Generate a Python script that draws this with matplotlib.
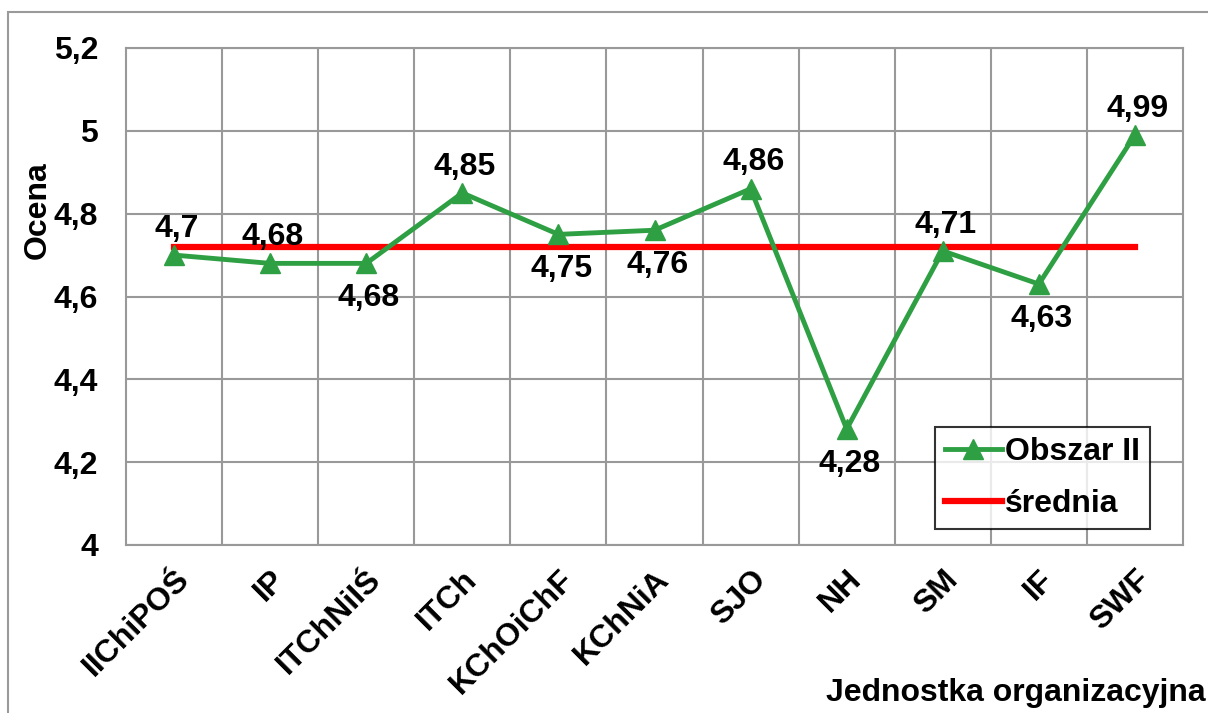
import matplotlib.pyplot as plt
from matplotlib.patches import Rectangle

plt.rcParams['font.family'] = ['Liberation Sans', 'DejaVu Sans']
plt.rcParams['font.weight'] = 'bold'

units = ['IIChiPOŚ', 'IP', 'ITChNiIŚ', 'ITCh', 'KChOiChF', 'KChNiA',
         'SJO', 'NH', 'SM', 'IF', 'SWF']
scores = [4.7, 4.68, 4.68, 4.85, 4.75, 4.76, 4.86, 4.28, 4.71, 4.63, 4.99]
mean_score = [4.72] * len(units)
label_text = ['4,7', '4,68', '4,68', '4,85', '4,75', '4,76', '4,86', '4,28',
              '4,71', '4,63', '4,99']
label_above = [True, True, False, True, False, False, True, False, True,
               False, True]
y_ticks = [4, 4.2, 4.4, 4.6, 4.8, 5, 5.2]
y_tick_labels = ['4', '4,2', '4,4', '4,6', '4,8', '5', '5,2']

GREEN = '#2ea043'
GRID = '#999999'
FS = 23

fig = plt.figure(figsize=(12.08, 7.13), dpi=100)
fig.patches.append(Rectangle((8 / 1208, -0.1), 1.2, (713 - 12) / 713 + 0.1,
                             transform=fig.transFigure, fill=False,
                             edgecolor='#9a9a9a', linewidth=1.5))
ax = fig.add_axes([126 / 1208, 168 / 713, 1057 / 1208, 497 / 713])

x = list(range(len(units)))
ax.plot(x, scores, color=GREEN, linewidth=3.5, marker='^', markersize=14,
        label='Obszar II', zorder=3)
ax.plot(x, mean_score, color='#ff0000', linewidth=4.5, label='średnia',
        zorder=2)

for xi, v, t, up in zip(x, scores, label_text, label_above):
    ax.annotate(t, (xi, v), xytext=(2, 19 if up else -25),
                textcoords='offset points', ha='center',
                va='center', fontsize=FS, fontweight='bold')

ax.set_xlim(-0.5, len(units) - 0.5)
ax.set_ylim(4, 5.2)
ax.set_yticks(y_ticks)
ax.set_yticklabels(y_tick_labels, fontsize=FS, fontweight='bold')
ax.set_xticks(x)
ax.set_xticklabels(units, rotation=45, ha='right', va='top',
                   rotation_mode='anchor', fontsize=FS, fontweight='bold')
ax.tick_params(axis='x', length=0, pad=14)
ax.tick_params(axis='y', length=0, pad=20)

# vertical gridlines sit between categories
for b in [i + 0.5 for i in range(len(units) - 1)]:
    ax.axvline(b, color=GRID, linewidth=1.5, zorder=0)
ax.grid(axis='y', color=GRID, linewidth=1.5, zorder=0)
for s in ax.spines.values():
    s.set_color(GRID)
    s.set_linewidth(1.5)

fig.text(38 / 1208, 1 - 210 / 713, 'Ocena', rotation=90, ha='center',
         va='center', fontsize=FS, fontweight='bold')
fig.text(1206 / 1208, 1 - 693 / 713, 'Jednostka organizacyjna', ha='right',
         va='center', fontsize=FS, fontweight='bold')

leg = ax.legend(loc='lower right', bbox_to_anchor=(1150 / 1208, 184 / 713),
                bbox_transform=fig.transFigure, fontsize=FS, frameon=True,
                fancybox=False, handlelength=1.8, handletextpad=0.1,
                borderpad=0.3, labelspacing=0.7, borderaxespad=0)
leg.get_frame().set_edgecolor('black')
leg.get_frame().set_linewidth(1.5)

fig.savefig('out.png', dpi=100)
